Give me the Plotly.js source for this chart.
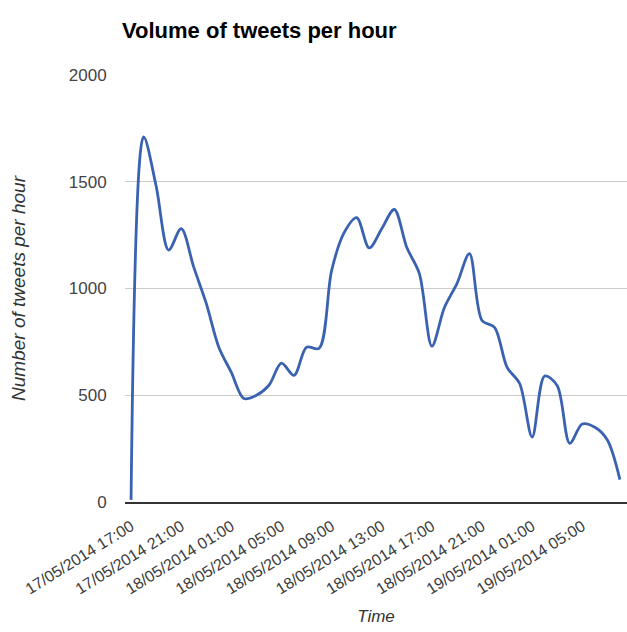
<!DOCTYPE html>
<html>
<head>
<meta charset="utf-8">
<script src="https://cdn.plot.ly/plotly-3.0.1.min.js"></script>
<style>html,body{margin:0;padding:0;background:#fff;}#chart{width:627px;height:632px;}</style>
</head>
<body>
<div id="chart"></div>
<script>
// Hourly timestamps (17/05/2014 17:00 to 19/05/2014 08:00)
const times = [
  '2014-05-17 17:00','2014-05-17 18:00','2014-05-17 19:00','2014-05-17 20:00','2014-05-17 21:00',
  '2014-05-17 22:00','2014-05-17 23:00','2014-05-18 00:00','2014-05-18 01:00','2014-05-18 02:00',
  '2014-05-18 03:00','2014-05-18 04:00','2014-05-18 05:00','2014-05-18 06:00','2014-05-18 07:00',
  '2014-05-18 08:00','2014-05-18 09:00','2014-05-18 10:00','2014-05-18 11:00','2014-05-18 12:00',
  '2014-05-18 13:00','2014-05-18 14:00','2014-05-18 15:00','2014-05-18 16:00','2014-05-18 17:00',
  '2014-05-18 18:00','2014-05-18 19:00','2014-05-18 20:00','2014-05-18 21:00','2014-05-18 22:00',
  '2014-05-18 23:00','2014-05-19 00:00','2014-05-19 01:00','2014-05-19 02:00','2014-05-19 03:00',
  '2014-05-19 04:00','2014-05-19 05:00','2014-05-19 06:00','2014-05-19 07:00','2014-05-19 08:00'
];
// Number of tweets per hour
const tweets = [
  10, 1710, 1480, 1180, 1280, 1100, 930, 725, 607, 485,
  500, 547, 650, 593, 725, 720, 1084, 1262, 1332, 1190,
  1280, 1370, 1192, 1070, 730, 911, 1023, 1163, 850, 818,
  631, 555, 304, 590, 545, 275, 365, 350, 290, 105
];
// Axis tick positions and labels
const tickTimes = ['2014-05-17 17:00','2014-05-17 21:00','2014-05-18 01:00','2014-05-18 05:00','2014-05-18 09:00',
  '2014-05-18 13:00','2014-05-18 17:00','2014-05-18 21:00','2014-05-19 01:00','2014-05-19 05:00'];
const tickLabels = ['17/05/2014 17:00','17/05/2014 21:00','18/05/2014 01:00','18/05/2014 05:00','18/05/2014 09:00',
  '18/05/2014 13:00','18/05/2014 17:00','18/05/2014 21:00','19/05/2014 01:00','19/05/2014 05:00'];
const yTicks = [0, 500, 1000, 1500, 2000];

const trace = {
  x: times, y: tweets, type: 'scatter', mode: 'lines',
  line: {color: '#3a62b0', width: 2.8, shape: 'spline', smoothing: 0.9},
  hoverinfo: 'x+y'
};
const font = 'Arial, "Liberation Sans", sans-serif';
const layout = {
  width: 627, height: 632,
  margin: {l: 125, r: 0, t: 75, b: 130},
  paper_bgcolor: '#fff', plot_bgcolor: '#fff',
  showlegend: false,
  font: {family: font, color: '#444'},
  title: {text: 'Volume of tweets per hour', x: 122/627, xanchor: 'left', xref: 'container',
    y: 1 - 30/632, yanchor: 'middle', yref: 'container',
    font: {family: font, size: 22, color: '#000', weight: 'bold'}},
  xaxis: {
    type: 'date',
    range: ['2014-05-17 16:31', '2014-05-19 08:34'],
    tickvals: tickTimes, ticktext: tickLabels,
    tickangle: -32, tickfont: {size: 16, color: '#3c3c3c'},
    showgrid: false, zeroline: false,
    showline: true, linecolor: '#333', linewidth: 2,
    ticks: 'outside', ticklen: 7, tickcolor: 'rgba(0,0,0,0)',
    title: {text: '<i>Time</i>', font: {size: 17, color: '#333'}, standoff: 14},
    automargin: false
  },
  yaxis: {
    range: [0, 2000], tickvals: yTicks,
    tickfont: {size: 17, color: '#444'},
    showgrid: true, gridcolor: '#cccccc', gridwidth: 1,
    zeroline: false, showline: false,
    ticks: 'outside', ticklen: 14, tickcolor: 'rgba(0,0,0,0)',
    title: {text: '<i>Number of tweets per hour</i>', font: {size: 19, color: '#333'}, standoff: 38},
    automargin: false
  }
};
Plotly.newPlot('chart', [trace], layout, {displayModeBar: false, staticPlot: true});
</script>
</body>
</html>
